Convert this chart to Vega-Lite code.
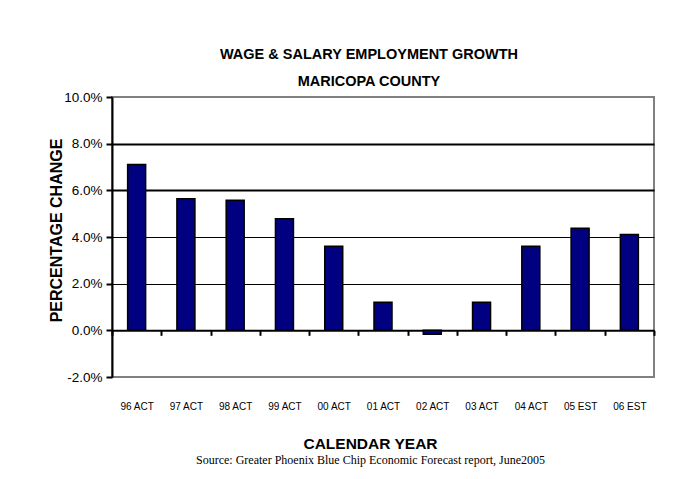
{
  "$schema": "https://vega.github.io/schema/vega-lite/v6.json",
  "width": 542,
  "height": 280,
  "autosize": {"type": "none"},
  "padding": {"left": 112, "top": 97, "right": 25, "bottom": 102},
  "background": "white",
  "title": {
    "text": ["WAGE & SALARY EMPLOYMENT GROWTH", "MARICOPA COUNTY"],
    "font": "Liberation Sans, Arial",
    "fontSize": 14.5,
    "fontWeight": "bold",
    "color": "black",
    "lineHeight": 27,
    "anchor": "middle",
    "dx": -14,
    "offset": 1
  },
  "data": {
    "values": [
      {"year": "96 ACT", "change": 0.0711},
      {"year": "97 ACT", "change": 0.0564},
      {"year": "98 ACT", "change": 0.0557},
      {"year": "99 ACT", "change": 0.0478},
      {"year": "00 ACT", "change": 0.036},
      {"year": "01 ACT", "change": 0.012},
      {"year": "02 ACT", "change": -0.0017},
      {"year": "03 ACT", "change": 0.012},
      {"year": "04 ACT", "change": 0.036},
      {"year": "05 EST", "change": 0.0437},
      {"year": "06 EST", "change": 0.0411}
    ]
  },
  "layer": [
    {
      "mark": {"type": "bar", "color": "#000080", "stroke": "black", "strokeWidth": 1.5, "width": 18},
      "encoding": {
        "x": {
          "field": "year",
          "type": "nominal",
          "sort": null,
          "scale": {"paddingInner": 0, "paddingOuter": 0},
          "axis": {
            "orient": "bottom",
            "offset": -46.67,
            "title": "CALENDAR YEAR",
            "titleFont": "Liberation Sans, Arial",
            "titleFontSize": 15.5,
            "titleFontWeight": "bold",
            "titleColor": "black",
            "titleBaseline": "alphabetic",
            "titleY": 118,
            "titleX": 258,
            "labelAngle": 0,
            "labelFont": "Liberation Sans, Arial",
            "labelFontSize": 10,
            "labelColor": "black",
            "labelPadding": 66,
            "domainColor": "black",
            "domainWidth": 2,
            "tickBand": "extent",
            "tickColor": "black",
            "tickWidth": 2,
            "tickSize": 5,
            "grid": false
          }
        },
        "y": {
          "field": "change",
          "type": "quantitative",
          "scale": {"domain": [-0.02, 0.1], "nice": false},
          "axis": {
            "values": [-0.02, 0, 0.02, 0.04, 0.06, 0.08, 0.1],
            "format": ".1%",
            "labelExpr": "replace(datum.label, '\u2212', '-')",
            "title": "PERCENTAGE CHANGE",
            "titleFont": "Liberation Sans, Arial",
            "titleFontSize": 16,
            "titleFontWeight": "bold",
            "titleColor": "black",
            "titleAngle": -90,
            "titleAlign": "center",
            "titleBaseline": "alphabetic",
            "titleX": -51,
            "titleY": 133,
            "labelFont": "Liberation Sans, Arial",
            "labelFontSize": 13.5,
            "labelColor": "black",
            "labelPadding": 4,
            "domainColor": "black",
            "domainWidth": 2,
            "tickColor": "black",
            "tickWidth": 2,
            "tickSize": 6,
            "grid": true,
            "gridColor": {"condition": {"test": "datum.value > 0.09 || datum.value < -0.01", "value": "#808080"}, "value": "black"},
            "gridWidth": {"condition": {"test": "datum.value > 0.05 && datum.value < 0.09", "value": 2}, "value": 1}
          }
        }
      }
    },
    {
      "mark": {"type": "bar", "opacity": 0},
      "encoding": {
        "x": {
          "field": "year",
          "type": "nominal",
          "sort": null,
          "axis": {
            "orient": "bottom",
            "offset": 0,
            "title": "Source: Greater Phoenix Blue Chip Economic Forecast report, June2005",
            "titleFont": "Liberation Serif, Times New Roman",
            "titleFontSize": 12,
            "titleFontWeight": "normal",
            "titleColor": "black",
            "titleBaseline": "alphabetic",
            "titleY": 86,
            "titleX": 258,
            "labels": false,
            "ticks": false,
            "domain": false,
            "grid": false
          }
        },
        "y": {"field": "change", "type": "quantitative"}
      }
    }
  ],
  "resolve": {"axis": {"x": "independent"}},
  "config": {
    "view": {"stroke": "#808080", "strokeWidth": 2}
  }
}
